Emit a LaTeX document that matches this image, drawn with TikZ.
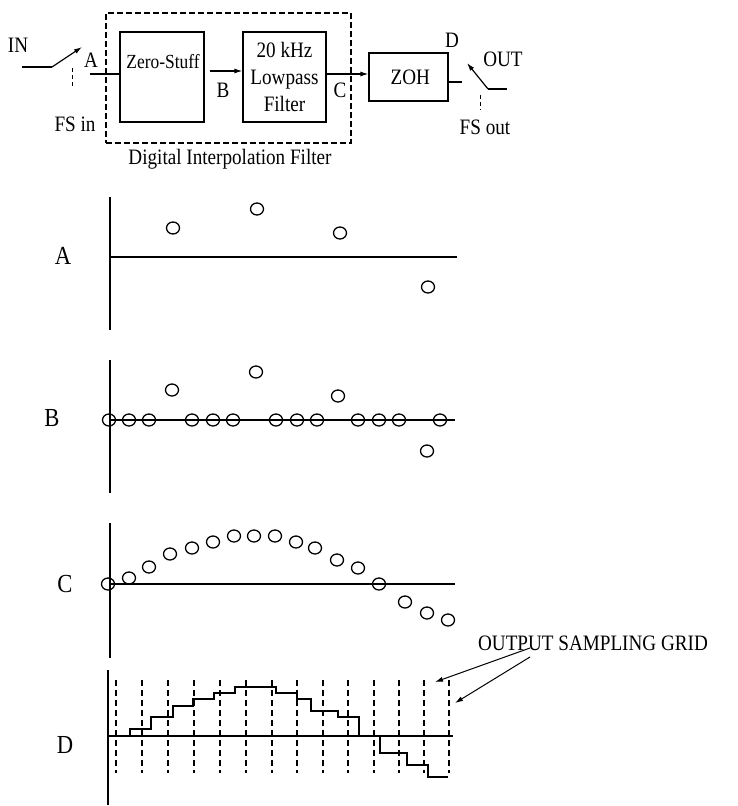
\documentclass[tikz,border=0pt]{standalone}
\usepackage{fontspec}
\setmainfont[FakeStretch=0.87]{Liberation Serif}
\usetikzlibrary{arrows.meta,calc}

\begin{document}
\begin{tikzpicture}[x=1pt, y=-1pt, line width=1.2pt,
    font=\fontsize{22}{23}\selectfont,
    >={Latex[length=8pt,width=5pt]},
    blk/.style={draw, inner sep=0pt},
    smp/.style={line width=1.3pt},
    grd/.style={line width=1.6pt, dash pattern=on 6pt off 4pt},
    sw/.style={line width=1pt, dash pattern=on 4pt off 3pt},
    plbl/.style={font=\fontsize{26}{28}\selectfont}]
    \useasboundingbox (0,0) rectangle (738,806);

    % block diagram
    \node[blk, dash pattern=on 6pt off 3pt, minimum width=245pt, minimum height=130pt] (dif) at (228.5,78) {};
    \node (diftxt) at (230,159) {Digital Interpolation Filter};
    \node[blk, minimum width=84pt, minimum height=90pt] (zero) at (162,77) {};
    \node[font=\fontsize{20}{22}\selectfont] (zerotxt) at (163,62) {Zero-Stuff};
    \node[blk, minimum width=83pt, minimum height=90pt, align=center] (lpf) at (284.5,77)
        {20 kHz\\[4pt]Lowpass\\[4pt]Filter};
    \node[blk, minimum width=79pt, minimum height=48pt] (zoh) at (408.5,77) {\,ZOH\hspace{8pt}};

    \node (in) at (18,45) {IN};
    \node (fsin) at (75,124) {FS in};
    \node (la) at (91,60) {A};
    \node (lb) at (223,90) {B};
    \node (lc) at (340,90) {C};
    \node (ld) at (452,40) {D};
    \node (out) at (503,59) {OUT};
    \node (fsout) at (485,127) {FS out};

    \coordinate (inl) at (22,67);
    \coordinate (sin) at (52,67);
    \coordinate (sint) at (82,47);
    \draw (inl) -- (sin);
    \draw[->] (sin) -- (sint);
    \draw[sw] (72,68) -- (72,88);
    \coordinate (ain) at (90,74);
    \draw (ain) -- (ain -| zero.west);
    \draw[->] ($(zero.east)+(5,-6)$) -- ($(lpf.west)+(0,-6)$);
    \draw[->] ($(lpf.east)+(0,-3)$) -- ($(zoh.west)+(0,-3)$);

    \coordinate (zo) at (462,82);
    \draw ($(zoh.east)+(0,5)$) -- (zo);
    \coordinate (sout) at (488,89);
    \coordinate (soutt) at (467,63);
    \coordinate (outr) at (507,89);
    \draw[->] (sout) -- (soutt);
    \draw (sout) -- (outr);
    \draw[sw] (480,95) -- (480,110);

    % plot A
    \node[plbl] (pa) at (63,256) {A};
    \draw (110,197) -- (110,330);
    \draw (110,257) -- (457,257);
    \foreach \px/\py in {173/228, 257/209, 340/233, 428/287}
        \draw[smp] (\px,\py) circle[x radius=6.5pt, y radius=6pt];

    % plot B
    \node[plbl] (pb) at (52,418) {B};
    \draw (110,360) -- (110,493);
    \draw (110,420) -- (455,420);
    \foreach \px in {109,129,149,192,213,233,276,297,317,358,379,399,440}
        \draw[smp] (\px,420) circle[x radius=6.5pt, y radius=6pt];
    \foreach \px/\py in {172/390, 256/372, 338/396, 427/451}
        \draw[smp] (\px,\py) circle[x radius=6.5pt, y radius=6pt];

    % plot C
    \node[plbl] (pc) at (65,584) {C};
    \draw (110,523) -- (110,658);
    \draw (110,584) -- (455,584);
    \foreach \px/\py in {108/584, 129/578, 149/567, 170/554, 192/548, 213/542, 234/536,
        254/536, 275/536, 296/542, 315/548, 337/560, 358/568, 379/584, 405/602, 427/613, 448/620}
        \draw[smp] (\px,\py) circle[x radius=6.5pt, y radius=6pt];

    % plot D
    \node[plbl] (pd) at (65,745) {D};
    \draw (108,670) -- (108,805);
    \draw (108,736) -- (453,736);
    \foreach \gx in {116,142,168,194,220,246,272,297,323,348,374,399,424,449}
        \draw[grd] (\gx,680) -- (\gx,773);
    \draw (130,736) -- (130,729) -- (151,729) -- (151,717) -- (173,717) -- (173,706)
        -- (193,706) -- (193,699) -- (214,699) -- (214,693) -- (235,693) -- (235,687)
        -- (276,687) -- (276,693) -- (297,693) -- (297,699) -- (311,699) -- (311,711)
        -- (338,711) -- (338,717) -- (359,717) -- (359,736);
    \draw (380,736) -- (380,753) -- (407,753) -- (407,765) -- (428,765) -- (428,777) -- (448,777);

    \node (grdtxt) at (593,643) {OUTPUT SAMPLING GRID};
    \coordinate (gs1) at (530,648);
    \coordinate (gs2) at (530,657);
    \coordinate (g1) at (435,682);
    \coordinate (g2) at (455,703);
    \draw[->, line width=1pt] (gs1) -- (g1);
    \draw[->, line width=1pt] (gs2) -- (g2);
\end{tikzpicture}
\end{document}
